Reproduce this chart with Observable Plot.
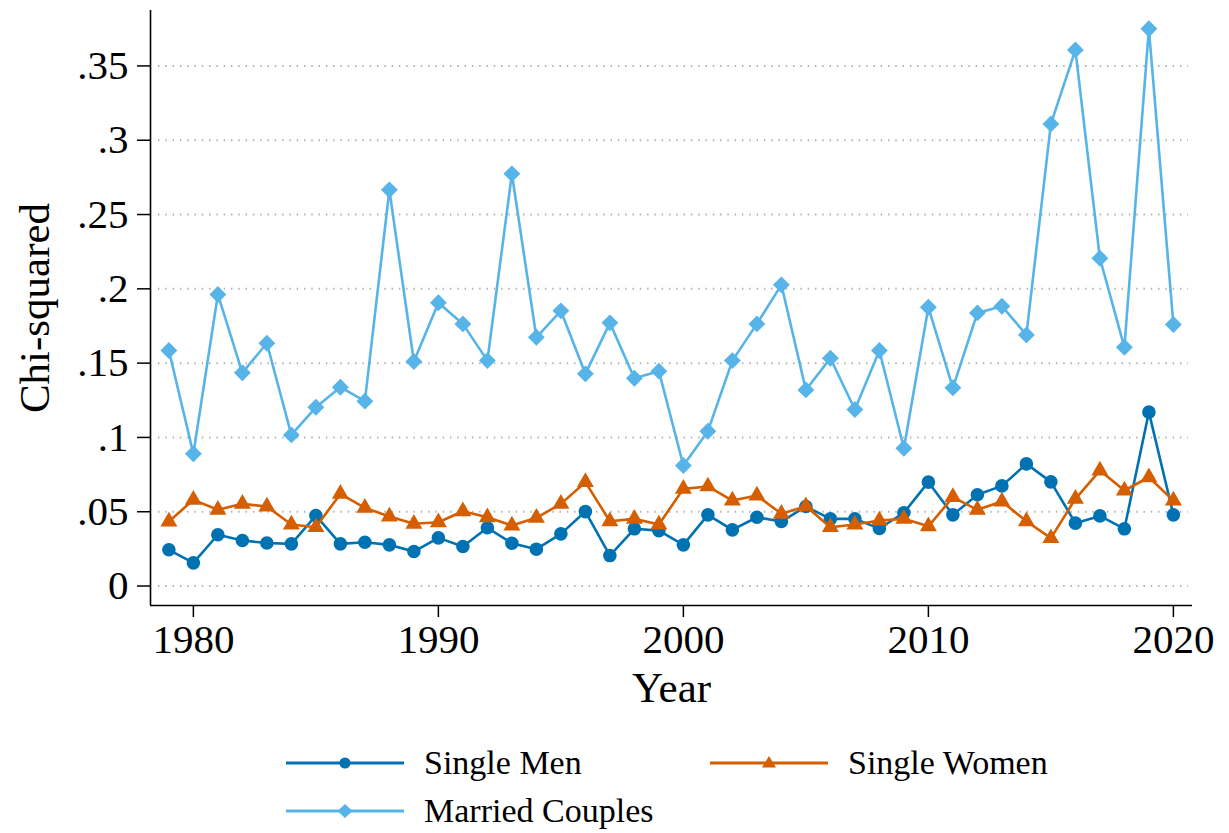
<!DOCTYPE html>
<html>
<head>
<meta charset="utf-8">
<script src="https://cdn.jsdelivr.net/npm/d3@7"></script>
<script src="https://cdn.jsdelivr.net/npm/@observablehq/plot@0.6"></script>
<style>
  html, body { margin: 0; padding: 0; background: #fff; }
  #wrap { position: relative; width: 1229px; height: 833px; overflow: hidden; font-family: "Liberation Serif", "Times New Roman", serif; }
  .leg { position: absolute; display: flex; align-items: center; height: 40px; font-size: 34px; color: #000; white-space: nowrap; }
  .leg svg { display: block; margin-right: 20px; }
</style>
</head>
<body>
<div id="wrap"></div>
<script>
const years = [1979,1980,1981,1982,1983,1984,1985,1986,1987,1988,1989,1990,1991,1992,1993,1994,1995,1996,1997,1998,1999,2000,2001,2002,2003,2004,2005,2006,2007,2008,2009,2010,2011,2012,2013,2014,2015,2016,2017,2018,2019,2020];

const singleMen = [0.0244,0.0156,0.0345,0.0306,0.0290,0.0284,0.0474,0.0284,0.0295,0.0277,0.0232,0.0324,0.0266,0.0392,0.0288,0.0248,0.0351,0.0501,0.0205,0.0385,0.0373,0.0277,0.0479,0.0378,0.0463,0.0434,0.0535,0.0452,0.0452,0.0387,0.0493,0.0699,0.0479,0.0614,0.0674,0.0822,0.0701,0.0423,0.0472,0.0385,0.1170,0.0479];

const singleWomen = [0.0434,0.0580,0.0513,0.0553,0.0535,0.0414,0.0396,0.0620,0.0526,0.0468,0.0419,0.0429,0.0503,0.0463,0.0407,0.0459,0.0553,0.0699,0.0436,0.0452,0.0414,0.0654,0.0670,0.0575,0.0609,0.0486,0.0537,0.0396,0.0414,0.0441,0.0452,0.0402,0.0598,0.0513,0.0569,0.0436,0.0322,0.0587,0.0777,0.0643,0.0732,0.0575];

const marriedCouples = [0.1585,0.0890,0.1962,0.1435,0.1634,0.1017,0.1203,0.1338,0.1244,0.2666,0.1511,0.1906,0.1764,0.1517,0.2774,0.1674,0.1852,0.1428,0.1771,0.1398,0.1446,0.0811,0.1042,0.1517,0.1764,0.2027,0.1320,0.1533,0.1188,0.1585,0.0927,0.1876,0.1334,0.1838,0.1883,0.1690,0.3110,0.3608,0.2206,0.1607,0.3750,0.1760];

const seriesNames = ["Single Men", "Single Women", "Married Couples"];
const seriesColors = ["#0072B2", "#D55E00", "#56B4E9"];
const seriesSymbols = ["circle", "triangle", "diamond2"];

const xTicks = [1980, 1990, 2000, 2010, 2020];
const yTicks = [0, 0.05, 0.1, 0.15, 0.2, 0.25, 0.3, 0.35];
const yTickLabels = ["0", ".05", ".1", ".15", ".2", ".25", ".3", ".35"];
const xDomain = [1978.25, 2020.78];
const yDomain = [-0.0131, 0.3873];
const xTitle = "Year";
const yTitle = "Chi-squared";

const seriesValues = [singleMen, singleWomen, marriedCouples];
const tables = seriesValues.map((vals, s) => years.map((year, i) => ({year, value: vals[i], series: seriesNames[s]})));

const serifFont = "'Liberation Serif', 'Times New Roman', serif";
const seriesMarks = [];
tables.forEach((t, s) => {
  seriesMarks.push(Plot.line(t, {x: "year", y: "value", stroke: seriesColors[s], strokeWidth: 2.6}));
  seriesMarks.push(Plot.dot(t, {x: "year", y: "value", fill: seriesColors[s], stroke: "none",
    symbol: () => seriesSymbols[s], r: s === 0 ? 6.8 : s === 1 ? 6.3 : 7.6}));
});

const chart = Plot.plot({
  width: 1229,
  height: 720,
  marginLeft: 150,
  marginRight: 37,
  marginTop: 10,
  marginBottom: 115,
  style: {fontFamily: serifFont, fontSize: "41px", color: "#000", background: "#fff", overflow: "visible"},
  x: {domain: xDomain, ticks: xTicks, tickFormat: "d"},
  y: {domain: yDomain, ticks: yTicks},
  symbol: {type: "identity"},
  marks: [
    Plot.gridY(yTicks, {stroke: "#b0b0b0", strokeOpacity: 1, strokeWidth: 2, strokeDasharray: "1.4 5.9", insetLeft: 8, insetRight: 4}),
    Plot.axisX({ticks: xTicks, tickFormat: "d", tickSize: 12, tickPadding: 6, label: null, strokeWidth: 1.5, fontSize: 41}),
    Plot.axisY({ticks: yTicks, tickFormat: (d) => yTickLabels[yTicks.indexOf(d)], tickSize: 13, tickPadding: 9, label: null, strokeWidth: 1.5, fontSize: 41}),
    Plot.ruleX([xDomain[0]], {stroke: "#000", strokeWidth: 1.6}),
    Plot.ruleY([yDomain[0]], {stroke: "#000", strokeWidth: 1.6}),
    ...seriesMarks,
    Plot.text([yTitle], {text: d => d, frameAnchor: "left", textAnchor: "middle", rotate: -90, dx: -115, fontSize: 43, fill: "#000"}),
    Plot.text([xTitle], {text: d => d, frameAnchor: "bottom", textAnchor: "middle", dy: 96, fontSize: 43, fill: "#000"})
  ]
});

const wrap = document.getElementById("wrap");
chart.style.position = "absolute";
chart.style.left = "0px";
chart.style.top = "0px";
wrap.appendChild(chart);

// Legend (HTML below the SVG)
const legendPos = [
  {left: 286, top: 743},
  {left: 710, top: 743},
  {left: 286, top: 791}
];
function markerSvg(s) {
  const c = seriesColors[s];
  let shape;
  if (seriesSymbols[s] === "circle") shape = `<circle cx="59" cy="10" r="5.6" fill="${c}"/>`;
  else if (seriesSymbols[s] === "triangle") shape = `<path d="M59,3 L66,14.5 L52,14.5 Z" fill="${c}"/>`;
  else shape = `<path d="M59,3 L66.5,10 L59,17 L51.5,10 Z" fill="${c}"/>`;
  return `<svg width="118" height="20" viewBox="0 0 118 20"><line x1="0" y1="10" x2="118" y2="10" stroke="${c}" stroke-width="3"/>${shape}</svg>`;
}
seriesNames.forEach((name, s) => {
  const d = document.createElement("div");
  d.className = "leg";
  d.style.left = legendPos[s].left + "px";
  d.style.top = legendPos[s].top + "px";
  d.innerHTML = markerSvg(s) + `<span>${name}</span>`;
  wrap.appendChild(d);
});
</script>
</body>
</html>
